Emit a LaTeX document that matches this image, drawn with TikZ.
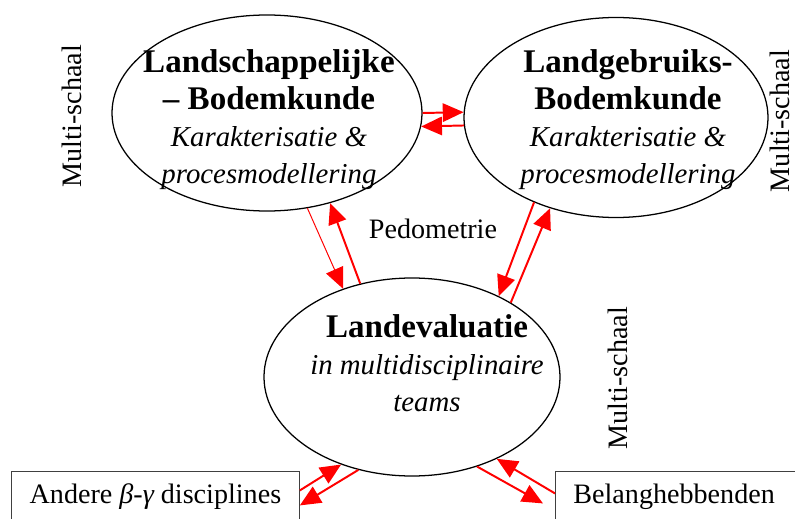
\documentclass[tikz,border=0pt]{standalone}
\usepackage{fontspec}
\setmainfont{Liberation Serif}
\usetikzlibrary{shapes.geometric,arrows.meta}

\tikzset{
	kring/.style={ellipse, draw=black, line width=0.9pt, inner sep=0pt},
	tekst/.style={align=center, font=\fontsize{20.5}{26.3}\selectfont},
	blok/.style={draw=black!75, line width=0.6pt, font=\fontsize{20}{24}\selectfont},
	schaal/.style={rotate=90, inner sep=0pt, font=\fontsize{20}{24}\selectfont},
	pijl/.style={draw=red, line width=1.4pt, -{Triangle[length=0.52cm, width=0.46cm]}},
	dunpijl/.style={pijl, line width=0.7pt}
}
\newcommand{\kop}[1]{{\fontsize{23.5}{26.3}\selectfont\bfseries #1}}

\begin{document}
\begin{tikzpicture}
				\useasboundingbox (0,0) rectangle (19.875,12.95);
				\node[kring, minimum width=7.75cm, minimum height=4.9cm] (lsb) at (6.675,10.125) {};
				\node[kring, minimum width=7.6cm, minimum height=5cm] (lgb) at (15.4,10.0125) {};
				\node[kring, minimum width=7.4cm, minimum height=4.95cm] (le) at (10.3,3.525) {};
				
				\node[tekst] (lsbtxt) at (6.725,9.95) {\kop{Landschappelijke}\\\kop{– Bodemkunde}\\\textit{Karakterisatie \&}\\\textit{procesmodellering}};
				\node[tekst] (lgbtxt) at (15.7,9.95) {\kop{Landgebruiks-}\\\kop{Bodemkunde}\\\textit{Karakterisatie \&}\\\textit{procesmodellering}};
				\node[tekst] (letxt) at (10.675,3.875) {\kop{Landevaluatie}\\\textit{in multidisciplinaire}\\\textit{teams}};
				\node[font=\fontsize{20}{24}\selectfont] (pedo) at (10.825,7.225) {Pedometrie};
				
				\node[blok, anchor=north west, minimum width=7.2cm, minimum height=1.25cm] (andere) at (0.275,1.175) {Andere {\itshape β}-{\itshape γ} disciplines};
				\node[blok, anchor=north west, minimum height=1.25cm, text width=5.6cm, inner xsep=0.45cm, align=left] (belang) at (13.875,1.175) {Belanghebbenden};
				
				\foreach \i/\x/\y in {1/1.8/10.05, 2/19.5/9.925, 3/15.45/3.5}{
					\node[schaal] (ms\i) at (\x,\y) {Multi-schaal};
				}
				
				\draw[pijl] (lsb.0) -- (lgb.178);
				\draw[pijl] (lgb.183) -- (lsb.355);
				\draw[dunpijl] (lsb.293) -- (le.128);
				\draw[pijl] (le.119) -- (lsb.305);
				\draw[pijl] (lgb.226) -- (le.43);
				\draw[pijl] (le.37) -- (lgb.234);
				\draw[pijl] ([yshift=0.15cm]andere.east) -- (le.231);
				\draw[pijl] (le.240) -- ([yshift=-0.225cm]andere.east);
				\draw[pijl] ([yshift=0.075cm]belang.west) -- (le.316);
				\draw[pijl] (le.306) -- ([xshift=-0.3cm, yshift=-0.175cm]belang.west);
			\end{tikzpicture}
\end{document}
